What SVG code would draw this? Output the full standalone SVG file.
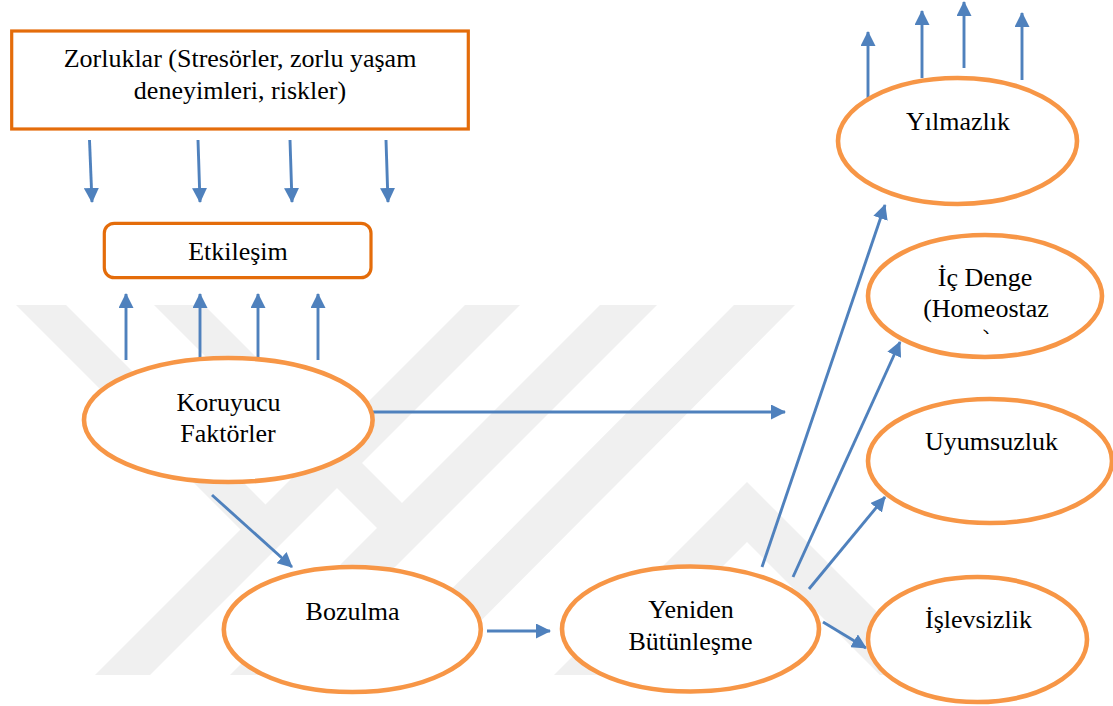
<svg xmlns="http://www.w3.org/2000/svg" width="1113" height="706" viewBox="0 0 1113 706">
  <defs>
    <style>
      .box { fill: #ffffff; stroke: #E46C0A; stroke-width: 3.2; }
      .ell { fill: #ffffff; stroke: #F79646; stroke-width: 4.6; }
      .lbl { font-size: 26px; fill: #000000; text-anchor: middle; }
      .arr { stroke: #4F81BD; stroke-width: 2.9; fill: none; marker-end: url(#head); }
      .wm { fill: #F0F0F0; }
    </style>
    <marker id="head" viewBox="0 0 15 15" refX="14" refY="7.5" markerWidth="15" markerHeight="15" markerUnits="userSpaceOnUse" orient="auto">
      <path d="M0,0 L15,7.5 L0,15 Z" fill="#4F81BD"/>
    </marker>
    <clipPath id="cutParen">
      <rect x="960" y="320" width="50" height="14"/>
    </clipPath>
  </defs>

  <rect x="0" y="0" width="1113" height="706" fill="#ffffff"/>

  <g id="watermark">
    <polygon class="wm" points="16,305 66,305 265.5,504.5 465,305 520,305 150,675 95,675 240.5,529.5"/>
    <polygon class="wm" points="154,305 204,305 402,503 600,305 657,305 287,675 230,675 377,528"/>
    <polygon class="wm" points="366,675 427,675 795,305 734,305"/>
    <polygon class="wm" points="554,675 747,482 940,675 880,675 747,542 614,675"/>
  </g>

  <g id="connectors">
    <line class="arr" x1="89.5" y1="140" x2="92" y2="202"/>
    <line class="arr" x1="198" y1="140" x2="200" y2="202"/>
    <line class="arr" x1="290" y1="140" x2="292" y2="202"/>
    <line class="arr" x1="386" y1="140" x2="388" y2="202"/>

    <line class="arr" x1="126" y1="360" x2="126" y2="294"/>
    <line class="arr" x1="200" y1="358" x2="200" y2="294"/>
    <line class="arr" x1="258" y1="358" x2="258" y2="294"/>
    <line class="arr" x1="318" y1="360" x2="318" y2="294"/>

    <line class="arr" x1="868" y1="98" x2="868" y2="32"/>
    <line class="arr" x1="922" y1="78" x2="922" y2="11"/>
    <line class="arr" x1="964" y1="68" x2="964" y2="2"/>
    <line class="arr" x1="1022" y1="80" x2="1022" y2="13"/>

    <line class="arr" x1="373" y1="412" x2="785" y2="412"/>
    <line class="arr" x1="212" y1="495" x2="292" y2="567"/>
    <line class="arr" x1="487" y1="631" x2="550" y2="631"/>

    <line class="arr" x1="762" y1="567" x2="885" y2="205"/>
    <line class="arr" x1="793" y1="577" x2="900" y2="342"/>
    <line class="arr" x1="809" y1="589" x2="885" y2="497"/>
    <line class="arr" x1="823" y1="622" x2="866" y2="648"/>
  </g>

  <g font-family="'Liberation Serif', 'Times New Roman', serif">
  <g id="zorluklar">
    <rect class="box" x="11.7" y="31" width="456.6" height="98"/>
    <text class="lbl" x="240" y="67">Zorluklar (Stresörler, zorlu yaşam</text>
    <text class="lbl" x="240" y="99">deneyimleri, riskler)</text>
  </g>

  <g id="etkilesim">
    <rect class="box" x="104.3" y="223.3" width="266.7" height="54.4" rx="10" ry="10"/>
    <text class="lbl" x="238" y="260">Etkileşim</text>
  </g>

  <g id="koruyucu">
    <ellipse class="ell" cx="228.3" cy="420" rx="144.3" ry="62"/>
    <text class="lbl" x="228.5" y="411">Koruyucu</text>
    <text class="lbl" x="228" y="442">Faktörler</text>
  </g>

  <g id="bozulma">
    <ellipse class="ell" cx="352.3" cy="629.5" rx="128.5" ry="62.5"/>
    <text class="lbl" x="352.5" y="620">Bozulma</text>
  </g>

  <g id="yeniden">
    <ellipse class="ell" cx="690.5" cy="629" rx="128.5" ry="62.5"/>
    <text class="lbl" x="691" y="618">Yeniden</text>
    <text class="lbl" x="690.5" y="650">Bütünleşme</text>
  </g>

  <g id="yilmazlik">
    <ellipse class="ell" cx="957.5" cy="141" rx="119.5" ry="63"/>
    <text class="lbl" x="958" y="130">Yılmazlık</text>
  </g>

  <g id="icdenge">
    <ellipse class="ell" cx="985" cy="296" rx="117" ry="61"/>
    <text class="lbl" x="985" y="286">İç Denge</text>
    <text class="lbl" x="986" y="317">(Homeostaz</text>
    <text class="lbl" x="987" y="347" clip-path="url(#cutParen)">)</text>
  </g>

  <g id="uyumsuzluk">
    <ellipse class="ell" cx="990" cy="461" rx="122" ry="62"/>
    <text class="lbl" x="991.5" y="450">Uyumsuzluk</text>
  </g>

  <g id="islevsizlik">
    <ellipse class="ell" cx="977.5" cy="639.5" rx="109.5" ry="62.5"/>
    <text class="lbl" x="978.5" y="628">İşlevsizlik</text>
  </g>
  </g>
</svg>
